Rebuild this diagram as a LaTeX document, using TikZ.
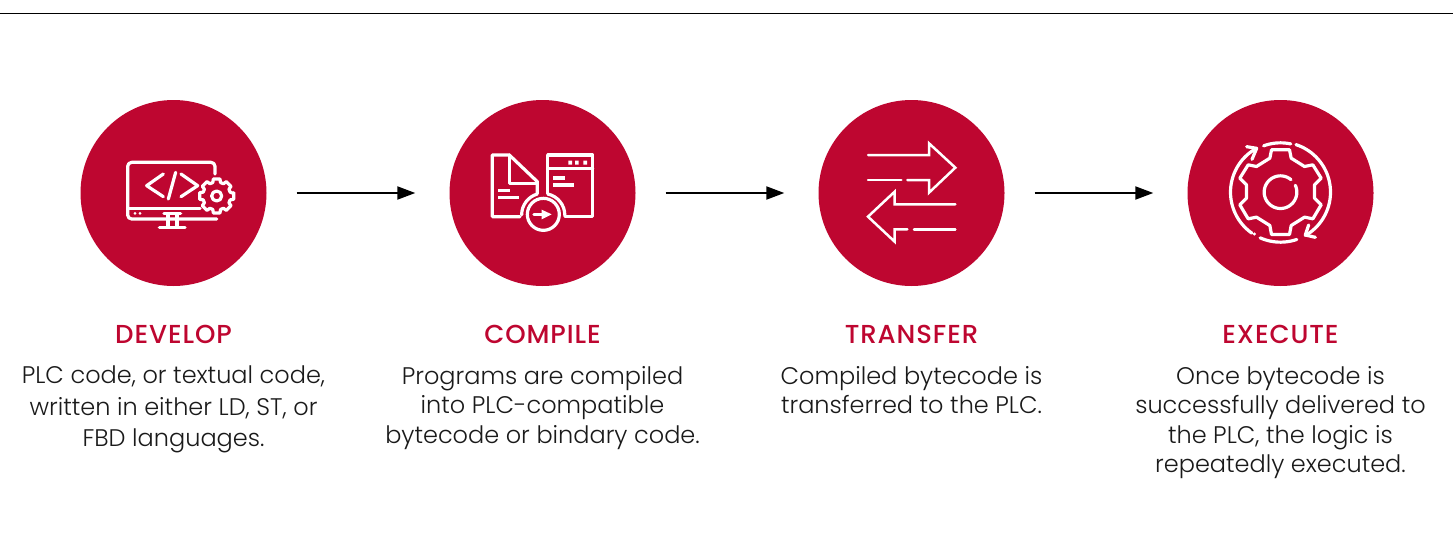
\documentclass[tikz,border=0pt]{standalone}
\usepackage{fontspec}
\setmainfont{Poppins Light}
\newfontfamily\headf[LetterSpace=3.5]{Poppins Medium}
\usetikzlibrary{arrows.meta}
\definecolor{crim}{HTML}{BE0630}
\definecolor{ink}{HTML}{1A1A1A}
\tikzset{
  disc/.style={circle,fill=crim,draw=none,minimum size=186pt,inner sep=0pt},
  flow/.style={draw=black,line width=2pt,-{Triangle[length=18pt,width=13pt]},shorten <=30pt,shorten >=34pt},
  head/.style={text=crim,font=\headf\fontsize{26}{28}\selectfont,anchor=base},
  body/.style={text=ink,align=center,anchor=north,inner sep=0pt},
  ico/.style={draw=white,line width=3.2pt,line cap=round,line join=round},
  icothin/.style={draw=white,line width=2.5pt,line cap=round,line join=miter},
  bar/.style={draw=white,line width=3.4pt},
  zoomed/.style={x=0.33333pt,y=-0.33333pt}
}
\begin{document}
\begin{tikzpicture}[x=1pt,y=-1pt]
\useasboundingbox (0,0) rectangle (1453,538);
\fill[white] (0,0) rectangle (1453,538);
\coordinate (ruleL) at (0,13.5);
\coordinate (ruleR) at (1453,13.5);
\draw[black,line width=1pt] (ruleL) -- (ruleR);
\node[disc] (c1) at (173.5,193) {};
\node[disc] (c2) at (542.5,193) {};
\node[disc] (c3) at (911.5,193) {};
\node[disc] (c4) at (1280.5,193) {};
\draw[flow] (c1) -- (c2);
\draw[flow] (c2) -- (c3);
\draw[flow] (c3) -- (c4);
% icon 1
\begin{scope}[shift={(80,100)},zoomed]
\draw[ico,rounded corners=4pt] (405,222) -- (405,187) -- (143,187) -- (143,357) -- (410,357);
\draw[ico] (143,326) -- (360,326);
\fill[white] (165,340) circle (4.5) (180,340) circle (4.5);
\draw[ico] (252,340) -- (302,340) (264,345) -- (264,380) (291,345) -- (291,380) (238,382) -- (315,382);
\draw[ico] (250,222) -- (200,257) -- (250,290);
\draw[ico] (287,217) -- (265,297);
\draw[ico] (303,222) -- (353,257) -- (303,290);
\draw[ico,shift={(410,288)}] (-8:52)
  \foreach \a in {0,45,...,315} { -- (\a-11:52) -- (\a+11:52) -- (\a+16:42) -- (\a+29:42) } -- cycle;
\draw[ico] (410,288) circle (15);
\end{scope}
% icon 2
\begin{scope}[shift={(450,100)},zoomed]
\draw[ico] (210,350) -- (127,350) -- (127,165) -- (178,165) -- (262,245) -- (262,280);
\draw[ico] (178,165) -- (178,250) -- (262,250);
\draw[ico] (293,280) -- (293,165) -- (428,165) -- (428,350) -- (345,350);
\draw[ico] (293,205) -- (428,205);
\draw[ico] (262,282) arc[start angle=-106,end angle=-180,radius=65];
\draw[ico] (293,282) arc[start angle=-78,end angle=0,radius=65];
\draw[ico] (280,343) circle (48);
\fill[white] (355,182) rectangle +(11,12) (375,182) rectangle +(11,12) (400,182) rectangle +(11,12);
\draw[bar] (310,234) -- (345,234) (310,255) -- (372,255) (144,272) -- (180,272) (144,293) -- (207,293);
\draw[ico] (252,343) -- (280,343);
\fill[white] (275,329) -- (305,343) -- (275,358) -- cycle;
\end{scope}
% icon 3
\begin{scope}[shift={(818,100)},zoomed]
\draw[icothin] (150,165) -- (333,165) -- (333,130) -- (412,203) -- (333,278) -- (333,240) -- (268,240);
\draw[icothin] (150,240) -- (250,240);
\draw[icothin] (412,313) -- (230,313) -- (230,275) -- (150,350) -- (230,425) -- (230,388) -- (268,388);
\draw[icothin] (288,388) -- (412,388);
\end{scope}
% icon 4
\begin{scope}[shift={(1186,100)},zoomed]
\begin{scope}[shift={(283.5,276.5)}]
\draw[ico] (27,-127) -- (32,-102) -- (72,-77) -- (97,-82) -- (122,-42) -- (102,-22) -- (102,18) -- (122,38)
  -- (97,80) -- (72,75) -- (32,100) -- (27,127) -- (-27,127) -- (-32,100) -- (-72,75) -- (-97,80)
  -- (-122,38) -- (-102,18) -- (-102,-22) -- (-122,-42) -- (-97,-82) -- (-72,-77) -- (-32,-102) -- (-27,-127) -- cycle;
\draw[ico] plot[domain=50:385,samples=50] ({49*cos(\x)},{-49*sin(\x)});
\draw[ico] plot[domain=119:235,samples=40] ({150*cos(\x)},{-150*sin(\x)});
\draw[ico] plot[domain=78:110,samples=12] ({148*cos(\x)},{-148*sin(\x)});
\draw[ico] plot[domain=-60:72,samples=40] ({150*cos(\x)},{-150*sin(\x)});
\draw[ico] plot[domain=-71:-114,samples=15] ({150*cos(\x)},{-150*sin(\x)});
\end{scope}
\fill[white] (205,402) circle (5);
\draw[ico] (182,140) -- (212,145) -- (198,178);
\draw[ico] (388,412) -- (358,405) -- (368,375);
\end{scope}
% text
\node[head] (h1) at (173.5,343.5) {DEVELOP};
\node[head] (h2) at (542.5,343.5) {COMPILE};
\node[head] (h3) at (911.5,343.5) {TRANSFER};
\node[head] (h4) at (1280.5,343.5) {EXECUTE};
\node[body,font=\fontsize{24}{31.5}\selectfont] (t1) at (173.5,366) {PLC code, or textual code,\\written in either LD, ST, or\\FBD languages.};
\node[body,font=\fontsize{24}{29.5}\selectfont] (t2) at (542.5,366) {Programs are compiled\\into PLC-compatible\\bytecode or bindary code.};
\node[body,font=\fontsize{24}{29.5}\selectfont] (t3) at (911.5,366) {Compiled bytecode is\\transferred to the PLC.};
\node[body,font=\fontsize{24}{29.5}\selectfont] (t4) at (1280.5,366) {Once bytecode is\\successfully delivered to\\the PLC, the logic is\\repeatedly executed.};
\end{tikzpicture}
\end{document}
